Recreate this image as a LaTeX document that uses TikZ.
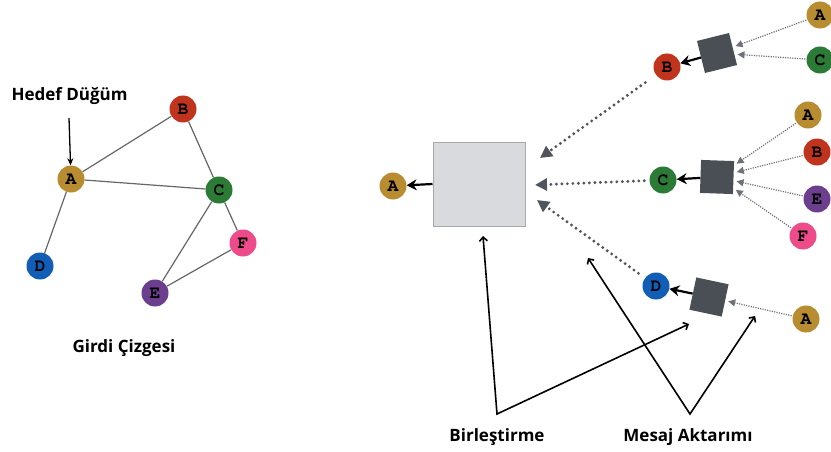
\documentclass[tikz,border=0pt]{standalone}
\usepackage{fontspec}
\setmainfont{Open Sans}
\newfontfamily\letterfont{texgyrecursor}[Extension=.otf, UprightFont=*-regular, BoldFont=*-bold]
\usetikzlibrary{arrows.meta}

\definecolor{cA}{HTML}{B88C30}
\definecolor{cB}{HTML}{C0341D}
\definecolor{cC}{HTML}{2B7A35}
\definecolor{cD}{HTML}{125DB5}
\definecolor{cE}{HTML}{6B3E8E}
\definecolor{cF}{HTML}{EE4B8B}
\definecolor{sqfill}{HTML}{4A4E55}
\definecolor{boxfill}{HTML}{D9DADD}
\definecolor{boxline}{HTML}{A7A8AA}
\definecolor{aggline}{HTML}{50545C}
\definecolor{msgline}{HTML}{6E7278}
\definecolor{edgeline}{HTML}{666666}

\tikzset{
  vtx/.style={circle, minimum size=27pt, inner sep=0pt,
    font=\letterfont\bfseries\fontsize{18}{18}\selectfont},
  sqnode/.style={fill=sqfill, minimum size=33pt, inner sep=0pt},
  edge/.style={draw=edgeline, line width=1.2pt},
  msg/.style={draw=msgline, line width=1.2pt, dash pattern=on 1.2pt off 1.2pt,
    -{Triangle[length=7pt,width=7pt]}, shorten >=3pt, shorten <=1pt},
  agg/.style={draw=aggline, line width=3.2pt, dash pattern=on 0pt off 5.5pt, line cap=round,
    -{Triangle[length=12pt,width=12pt]}},
  outarrow/.style={draw=black, line width=2.2pt, -{Stealth[length=10pt,width=11pt]}},
  note/.style={draw=black, line width=1.6pt,
    {Straight Barb[length=4pt,width=8pt]}-{Straight Barb[length=4pt,width=8pt]}},
  caption/.style={font=\bfseries\fontsize{17}{20}\selectfont},
}

\begin{document}
\begin{tikzpicture}[x=1pt, y=-1pt]
\useasboundingbox (0,0) rectangle (831,452);

% ---------- input graph ----------
\node[vtx, fill=cA] (gA) at (71,179) {A};
\node[vtx, fill=cB] (gB) at (183,109) {B};
\node[vtx, fill=cC] (gC) at (219,190) {C};
\node[vtx, fill=cD] (gD) at (40,266) {D};
\node[vtx, fill=cE] (gE) at (155,293) {E};
\node[vtx, fill=cF] (gF) at (243,243) {F};
\draw[edge] (gA) -- (gB);
\draw[edge] (gA) -- (gC);
\draw[edge] (gB) -- (gC);
\draw[edge] (gA) -- (gD);
\draw[edge] (gC) -- (gE);
\draw[edge] (gC) -- (gF);
\draw[edge] (gE) -- (gF);

\node[caption, anchor=west] (target) at (8,96) {Hedef Düğüm};
\coordinate (targetTop) at (69,118);
\draw[line width=1.3pt, -{Stealth[length=7pt,width=6pt]}] (targetTop) -- (gA);
\node[caption] (inputcap) at (124,348) {Girdi Çizgesi};

% ---------- aggregation box and output ----------
\node[draw=boxline, fill=boxfill, line width=1pt, minimum width=92pt, minimum height=84pt,
  inner sep=0pt] (box) at (479,184) {};
\node[vtx, fill=cA] (rA) at (393,186) {A};
\draw[outarrow] (box.west) -- (rA);

% ---------- neighbour B ----------
\node[vtx, fill=cB] (bB) at (667,67) {B};
\node[sqnode, rotate=14] (sqB) at (717,53) {};
\node[vtx, fill=cA] (bA) at (820,15) {A};
\node[vtx, fill=cC] (bC) at (820,60) {C};
\draw[msg] (bA) -- (sqB);
\draw[msg] (bC) -- (sqB);
\draw[outarrow] (sqB) -- (bB);

% ---------- neighbour C ----------
\node[vtx, fill=cC] (cCn) at (663,180) {C};
\node[sqnode, rotate=-2] (sqC) at (717,177) {};
\node[vtx, fill=cA] (cAn) at (808,115) {A};
\node[vtx, fill=cB] (cBn) at (817,152) {B};
\node[vtx, fill=cE] (cEn) at (817,199) {E};
\node[vtx, fill=cF] (cFn) at (803,236) {F};
\draw[msg] (cAn) -- (sqC);
\draw[msg] (cBn) -- (sqC);
\draw[msg] (cEn) -- (sqC);
\draw[msg] (cFn) -- (sqC);
\draw[outarrow] (sqC) -- (cCn);

% ---------- neighbour D ----------
\node[vtx, fill=cD] (dD) at (656,286) {D};
\node[sqnode, rotate=-12] (sqD) at (709,297) {};
\node[vtx, fill=cA] (dA) at (806,319) {A};
\draw[msg] (dA) -- (sqD);
\draw[outarrow] (sqD) -- (dD);

% ---------- aggregated messages into the box ----------
\coordinate (inB) at (540,158);
\coordinate (inC) at (535,185);
\coordinate (inD) at (537,200);
\draw[agg, shorten <=13pt] (bB) -- (inB);
\draw[agg, shorten <=5pt] (cCn) -- (inC);
\draw[agg, shorten <=8pt] (dD) -- (inD);

% ---------- annotations ----------
\node[caption] (aggcap) at (497,437) {Birleştirme};
\node[caption] (msgcap) at (688,437) {Mesaj Aktarımı};
\coordinate (v1) at (497,414);
\coordinate (v2) at (690,414);
\coordinate (t1) at (483,236);
\coordinate (t2) at (689,324);
\coordinate (t3) at (588,258);
\coordinate (t4) at (755,316);
\draw[note] (t1) -- (v1) -- (t2);
\draw[note] (t3) -- (v2) -- (t4);
\end{tikzpicture}
\end{document}
